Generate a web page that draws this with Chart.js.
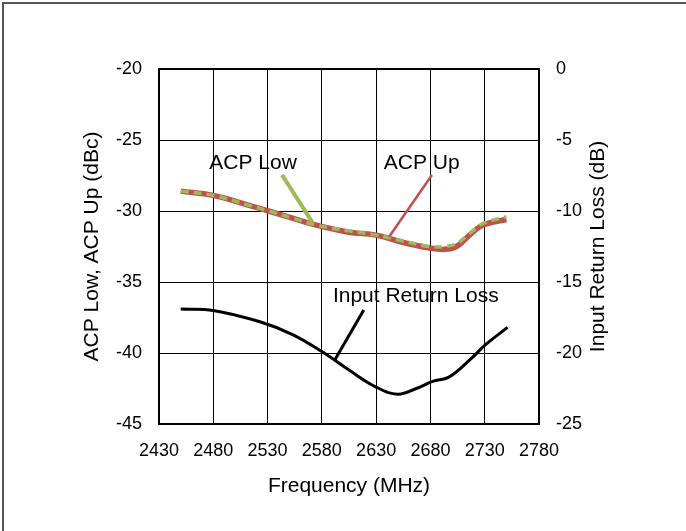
<!DOCTYPE html>
<html>
<head>
<meta charset="utf-8">
<script src="https://cdn.jsdelivr.net/npm/chart.js@4/dist/chart.umd.min.js"></script>
<style>
  body { margin:0; background:#fff; }
</style>
</head>
<body>
<canvas id="acpChart" width="686" height="531"></canvas>
<script>
// values
const acpFreq = [2450, 2480, 2513, 2531, 2553, 2575, 2605, 2630, 2654, 2679, 2693, 2704, 2716, 2728, 2750];
const acpUp   = [-28.6, -28.9, -29.6, -30.0, -30.5, -31.0, -31.5, -31.7, -32.2, -32.6, -32.7, -32.5, -31.7, -31.0, -30.6];
const acpLow  = [-28.6, -28.9, -29.6, -30.0, -30.5, -31.0, -31.4, -31.7, -32.1, -32.5, -32.5, -32.3, -31.6, -30.9, -30.4];
const irlFreq = [2450, 2480, 2523, 2553, 2580, 2605, 2630, 2650, 2667, 2682, 2697, 2716, 2731, 2751];
const irl     = [-16.9, -17.0, -17.8, -18.7, -19.9, -21.2, -22.4, -22.9, -22.5, -22.0, -21.7, -20.5, -19.4, -18.2];

// labels with leader lines (data units on the left axis)
const notes = [
  {text:'ACP Low', tx:2516.6, ty:-26.6, x1:2543.3, y1:-27.46, x2:2571, y2:-30.77, color:'#9BBB59', width:4},
  {text:'ACP Up', tx:2672, ty:-26.6, x1:2681.4, y1:-27.46, x2:2641.8, y2:-31.83, color:'#C0504D', width:2.5},
  {text:'Input Return Loss', tx:2666.5, ty:-36.0, x1:2618.6, y1:-36.97, x2:2591.9, y2:-40.49, color:'#000', width:3}
];
const rightTitle = 'Input Return Loss (dB)';

const toPts = (xs, ys) => xs.map((x, i) => ({x: x, y: ys[i]}));
const family = 'Arial, "Liberation Sans", sans-serif';
const tickFont = {family:family, size:18};
const titleFont = {family:family, size:21};

const notePlugin = {
  id:'notes',
  beforeDraw(chart){
    const c = chart.ctx;
    c.save();
    c.strokeStyle = '#555';
    c.lineWidth = 2;
    c.beginPath();
    c.moveTo(3, 531); c.lineTo(3, 3); c.lineTo(686, 3);
    c.stroke();
    c.restore();
  },
  afterDatasetsDraw(chart){
    const c = chart.ctx, xs = chart.scales.x, ys = chart.scales.y;
    const a = chart.chartArea;
    c.save();
    c.strokeStyle = '#000';
    c.lineWidth = 2;
    c.strokeRect(a.left, a.top, a.right - a.left, a.bottom - a.top);
    c.font = '21px ' + family;
    c.textAlign = 'center';
    c.textBaseline = 'middle';
    notes.forEach(n => {
      c.strokeStyle = n.color;
      c.lineWidth = n.width;
      c.beginPath();
      c.moveTo(xs.getPixelForValue(n.x1), ys.getPixelForValue(n.y1));
      c.lineTo(xs.getPixelForValue(n.x2), ys.getPixelForValue(n.y2));
      c.stroke();
      c.fillStyle = '#000';
      c.fillText(n.text, xs.getPixelForValue(n.tx), ys.getPixelForValue(n.ty));
    });
    // right axis title reads bottom-to-top like the left one
    c.translate(a.right + 59, (a.top + a.bottom) / 2);
    c.rotate(-Math.PI / 2);
    c.fillText(rightTitle, 0, 0);
    c.restore();
  }
};

new Chart(document.getElementById('acpChart'), {
  type:'line',
  data:{
    datasets:[
      {label:'ACP Low', data:toPts(acpFreq, acpLow), yAxisID:'y', borderColor:'#9BBB59', borderWidth:3.5,
       borderDash:[8,5], pointRadius:0, tension:0.4, fill:false},
      {label:'ACP Up', data:toPts(acpFreq, acpUp), yAxisID:'y', borderColor:'#C0504D', borderWidth:5.5,
       pointRadius:0, tension:0.4, fill:false},
      {label:'Input Return Loss', data:toPts(irlFreq, irl), yAxisID:'y2', borderColor:'#000', borderWidth:3,
       pointRadius:0, tension:0.4, fill:false}
    ]
  },
  options:{
    responsive:false,
    animation:false,
    layout:{padding:{left:76, right:72, top:69, bottom:28}},
    plugins:{legend:{display:false}, tooltip:{enabled:false}},
    scales:{
      x:{
        type:'linear', min:2430, max:2780,
        ticks:{stepSize:50, color:'#000', font:tickFont, padding:16, maxRotation:0,
               callback:v => String(v)},
        grid:{color:'#000', lineWidth:1, drawTicks:false},
        border:{display:false},
        title:{display:true, text:'Frequency (MHz)', color:'#000', font:titleFont},
        afterFit(s){ s.height = 79; }
      },
      y:{
        position:'left', min:-45, max:-20,
        ticks:{stepSize:5, color:'#000', font:tickFont, padding:17},
        grid:{color:'#000', lineWidth:1, drawTicks:false},
        border:{display:false},
        title:{display:true, text:'ACP Low, ACP Up (dBc)', color:'#000', font:titleFont},
        afterFit(s){ s.width = 83; }
      },
      y2:{
        position:'right', min:-25, max:0,
        ticks:{stepSize:5, color:'#000', font:tickFont, padding:17},
        grid:{display:false, drawTicks:false},
        border:{display:false},
        afterFit(s){ s.width = 75; }
      }
    }
  },
  plugins:[notePlugin]
});
</script>
</body>
</html>
